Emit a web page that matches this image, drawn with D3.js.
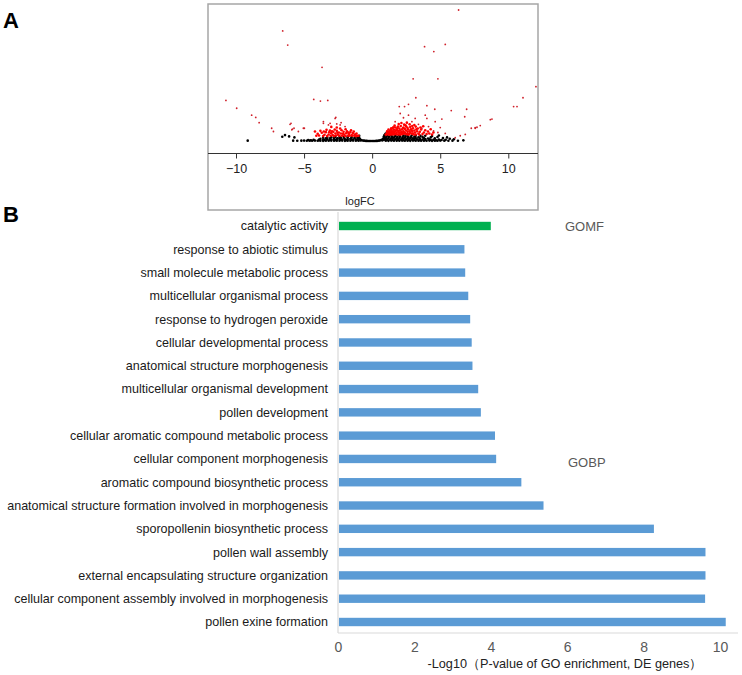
<!DOCTYPE html>
<html><head><meta charset="utf-8">
<script src="https://cdn.jsdelivr.net/npm/d3@7"></script>
<style>body{margin:0;background:#fff}svg{display:block;font-family:"Liberation Sans",Arial,sans-serif}</style>
</head><body><svg id="c" width="742" height="675"></svg>
<script>
// ---------- Panel A: volcano plot data (logFC, -log10 P) ----------
const volcanoXTicks = [-10, -5, 0, 5, 10];
const volcanoBlack = [
 [-0.9,0.6],[-0.8,0.3],[-0.7,0.15],[-0.6,0.1],[-0.5,0.05],[-0.4,0.03],[-0.3,0.02],[-0.2,0.01],[-0.1,0.01],[0,0.01],[0.1,0.01],[0.2,0.02],[0.3,0.03],[0.4,0.05],[0.5,0.1],[0.6,0.2],[0.7,0.4],[0.8,0.7],[0.9,1.1],[0.85,0.4],[0.75,0.15],[0.95,0.5],[-0.95,1.0],[-0.85,0.15],
 [0.9,1.6],[0.95,2.0],[0.85,1.3],[1.0,2.3],[0.92,1.8],[-1.0,1.3],[-0.95,1.6],
 [1.0,0.1],[1.2,0.05],[1.4,0.12],[1.6,0.08],[1.8,0.1],[2.0,0.06],[2.2,0.12],[2.4,0.08],[2.6,0.1],[2.8,0.05],[3.0,0.12],[3.2,0.08],[3.4,0.1],[3.6,0.06],[3.8,0.1],[4.0,0.08],[4.2,0.12],[4.4,0.05],[4.6,0.1],[4.8,0.08],[5.0,0.12],[5.3,0.1],[5.6,0.06],[5.9,0.1],[6.3,0.08],[6.7,0.2],
 [1.1,0.3],[1.5,0.3],[1.9,0.32],[2.3,0.28],[2.7,0.3],[3.1,0.32],[3.5,0.28],[3.9,0.3],[4.3,0.3],[4.7,0.25],[5.1,0.3],
 [0.95,0.5],[1.1,0.55],[1.3,0.45],[1.5,0.6],[1.7,0.5],[1.9,0.55],[2.1,0.45],[2.3,0.6],[2.5,0.5],[2.7,0.55],[2.9,0.45],[3.1,0.6],[3.3,0.5],[3.5,0.55],[3.7,0.45],[3.9,0.6],[4.2,0.5],[4.5,0.4],[4.9,0.45],[5.4,0.35],
 [1.0,0.9],[1.2,0.95],[1.4,0.85],[1.6,1.0],[1.8,0.9],[2.0,0.95],[2.2,0.85],[2.4,1.0],[2.6,0.9],[2.8,0.95],[3.0,0.85],[3.2,0.9],[3.5,0.8],[3.8,0.9],[4.1,0.75],[4.6,0.8],
 [1.05,1.3],[1.25,1.35],[1.45,1.25],[1.65,1.4],[1.85,1.3],[2.05,1.35],[2.25,1.25],[2.45,1.4],[2.65,1.3],[2.85,1.2],[3.1,1.3],[3.4,1.15],[3.7,1.25],[4.3,1.1],
 [1.1,1.7],[1.4,1.75],[1.7,1.65],[2.0,1.75],[2.3,1.7],[2.6,1.65],[2.9,1.7],[3.2,1.6],[3.55,1.55],
 [3.9,1.6],[4.4,1.5],[4.8,1.2],[5.2,0.9],[5.7,0.7],[6.0,0.5],[5.5,1.1],[4.9,1.7],
 [-1.0,0.1],[-1.2,0.06],[-1.4,0.12],[-1.6,0.08],[-1.8,0.1],[-2.0,0.05],[-2.2,0.12],[-2.4,0.08],[-2.6,0.1],[-2.8,0.06],[-3.0,0.12],[-3.2,0.08],[-3.4,0.1],[-3.6,0.05],[-3.8,0.1],[-4.0,0.08],[-4.2,0.12],[-4.4,0.06],[-4.6,0.1],[-4.8,0.08],[-5.0,0.12],[-5.2,0.1],[-5.5,0.06],[-5.8,0.1],
 [-1.1,0.3],[-1.5,0.32],[-1.9,0.28],[-2.3,0.3],[-2.7,0.32],[-3.1,0.28],[-3.5,0.3],[-3.9,0.25],[-4.5,0.2],
 [-1.0,0.5],[-1.2,0.55],[-1.4,0.45],[-1.6,0.6],[-1.8,0.5],[-2.0,0.55],[-2.2,0.45],[-2.4,0.6],[-2.6,0.5],[-2.8,0.55],[-3.0,0.45],[-3.3,0.5],[-3.6,0.4],[-3.9,0.45],[-4.3,0.35],[-4.7,0.3],
 [-1.05,0.9],[-1.3,0.95],[-1.55,0.85],[-1.8,1.0],[-2.05,0.9],[-2.3,0.95],[-2.55,0.85],[-2.8,0.9],[-3.1,0.8],[-3.4,0.85],[-3.8,0.7],
 [-1.2,1.3],[-1.5,1.25],[-1.8,1.35],[-2.1,1.3],[-2.4,1.2],[-2.7,1.25],[-3.0,1.15],[-3.3,1.1],[-3.6,1.0],
 [-9.14,0.1],[-6.4,1.8],[-6.6,1.3],[-5.71,1.1],[-6.1,1.4]
];
const volcanoRed = [
 [1.0,2.0],[1.05,2.0],[1.1,2.1],[1.1,2.4],[1.15,2.2],[1.2,2.1],[1.2,2.8],[1.25,2.0],[1.3,2.4],[1.3,3.1],[1.35,2.1],[1.4,2.7],[1.4,3.4],[1.45,2.0],[1.5,2.2],[1.5,3.0],[1.5,3.8],[1.55,2.6],[1.6,2.0],[1.6,3.4],[1.65,2.3],[1.7,2.9],[1.7,4.1],[1.75,2.1],[1.8,2.5],[1.8,3.6],[1.85,2.0],[1.9,3.1],[1.9,4.4],[1.95,2.7],[2.0,2.0],[2.0,2.3],[2.0,3.8],[2.05,3.3],[2.1,2.0],[2.1,4.6],[2.15,2.8],[2.2,3.5],[2.2,2.1],[2.25,2.4],[2.3,4.1],[2.3,3.0],[2.35,2.2],[2.4,2.6],[2.4,3.7],[2.45,4.8],[2.5,2.1],[2.5,3.2],[2.55,2.1],[2.6,2.8],[2.6,4.0],[2.65,3.5],[2.7,2.2],[2.7,2.0],[2.75,3.0],[2.8,4.3],[2.8,2.5],[2.85,3.6],[2.9,2.2],[2.95,2.9],[3.0,3.9],[3.0,2.3],[3.05,2.0],[3.1,3.2],[3.15,2.6],[3.2,4.4],[3.2,2.0],[3.3,3.0],[3.35,3.8],[3.4,2.3],[3.45,2.0],[3.5,2.8],[3.6,3.5],[3.7,2.1],[3.8,2.6],[3.9,3.3],[4.0,2.1],[4.1,2.9],[4.2,2.3],[4.3,3.6],[4.4,2.0],[4.5,2.6],[1.3,2.0],[1.6,2.6],[1.75,3.2],[2.05,2.6],[2.25,3.9],[2.5,4.4],[2.65,2.0],[2.9,3.3],[1.45,2.5],[1.85,4.0],[2.35,5.0],[1.95,5.2],[2.15,5.5],[1.65,4.7],[2.75,5.1],[2.55,5.6],[3.1,4.9],[1.55,4.2],[1.4,3.9],[2.95,4.6],[3.25,3.6],[3.55,4.1],[3.75,4.5],[1.1,3.0],[1.2,3.5],
 [-1.0,1.6],[-1.1,1.6],[-1.2,1.5],[-1.25,2.0],[-1.3,1.7],[-1.4,2.4],[-1.45,1.6],[-1.5,1.8],[-1.6,2.7],[-1.65,1.6],[-1.7,2.1],[-1.8,1.6],[-1.85,3.0],[-1.9,2.4],[-2.0,1.5],[-2.05,2.0],[-2.1,2.8],[-2.2,1.6],[-2.25,3.3],[-2.3,2.3],[-2.4,1.6],[-2.45,2.6],[-2.5,1.9],[-2.6,3.1],[-2.65,1.7],[-2.7,2.3],[-2.8,1.5],[-2.85,2.8],[-2.9,1.8],[-3.0,2.4],[-3.05,1.6],[-3.1,3.2],[-3.2,2.0],[-3.3,1.5],[-3.4,2.7],[-3.5,1.9],[-3.6,1.5],[-3.7,2.5],[-3.8,3.1],[-3.9,1.7],[-4.0,2.2],[-4.1,1.6],[-4.2,2.9],[-1.35,2.9],[-1.55,3.3],[-1.75,2.6],[-1.95,3.6],[-2.15,2.2],[-2.35,3.8],[-2.55,2.5],[-2.75,3.5],[-2.95,3.0],[-3.15,2.7],[-3.35,3.4],[-3.55,2.9],[-1.15,2.3],[-2.6,4.1],[-3.0,4.3]
];
const volcanoOutliers = [
 [6.35,40],[-6.57,33.6],[-6.2,29.3],[3.85,28.8],[5.37,29.5],[4.53,27.3],[-3.68,22.5],[3.01,19.0],[4.83,19.0],[12.03,16.6],[11.08,13.2],[-10.74,12.4],[-4.29,12.7],[-3.8,12.2],[-3.26,12.4],[3.21,13.2],[-9.95,10.0],[10.39,10.5],[10.64,10.5],[5.81,9.3],[6.94,9.7],[6.8,7.4],[4.6,9.7],
 [2.67,11.2],[1.99,10.5],[2.38,10.5],[4.02,10.8],[2.06,8.4],[2.67,7.9],[3.16,6.9],[3.9,7.9],[4.02,6.9],[4.63,5.9],[5.12,6.7],[5.0,4.1],[4.51,3.05],[4.83,2.6],[5.37,2.3],[7.57,4.1],[7.28,3.9],[6.84,2.0],[6.47,1.6],[6.1,1.0],[3.4,5.1],[3.65,3.9],[4.14,4.4],[2.3,7.1],[1.69,5.9],[2.92,5.9],
 [8.8,6.7],[8.68,6.5],[7.94,4.7],[7.7,4.2],[7.57,3.9],
 [-6.03,5.1],[-5.74,3.9],[-5.05,3.9],[-3.58,5.9],[-2.72,6.9],[-3.09,5.4],[-2.35,4.9],[-1.99,4.4],[-5.9,3.4],[-5.42,2.9],
 [-8.85,7.9],[-8.55,7.2],[-8.3,5.6],[-7.38,3.9],[-7.25,2.9],[-5.96,5.4],[-5.86,3.6],[-4.98,3.9],[-2.67,7.2],[-3.58,5.4],[-3.21,4.9],[-2.6,5.2],[-2.28,5.6]
];

// ---------- Panel B: GO enrichment bars ----------
const goTerms = [
 "catalytic activity",
 "response to abiotic stimulus",
 "small molecule metabolic process",
 "multicellular organismal process",
 "response to hydrogen peroxide",
 "cellular developmental process",
 "anatomical structure morphogenesis",
 "multicellular organismal development",
 "pollen development",
 "cellular aromatic compound metabolic process",
 "cellular component morphogenesis",
 "aromatic compound biosynthetic process",
 "anatomical structure formation involved in morphogenesis",
 "sporopollenin biosynthetic process",
 "pollen wall assembly",
 "external encapsulating structure organization",
 "cellular component assembly involved in morphogenesis",
 "pollen exine formation"
];
const goValues = [4.0,3.31,3.33,3.41,3.46,3.50,3.52,3.67,3.74,4.11,4.14,4.80,5.38,8.27,9.62,9.62,9.61,10.15];
const goOntology = ["GOMF","GOBP","GOBP","GOBP","GOBP","GOBP","GOBP","GOBP","GOBP","GOBP","GOBP","GOBP","GOBP","GOBP","GOBP","GOBP","GOBP","GOBP"];
const goXTicks = [0,2,4,6,8,10];
const ontologyLabels = ["GOMF","GOBP"];
const ontologyColors = {GOMF:"#00b050", GOBP:"#5b9bd5"};

const svg = d3.select("#c");

// ===== Panel A =====
const A = svg.append("g");
A.append("rect").attr("x",208).attr("y",4).attr("width",330).attr("height",206)
 .attr("fill","none").attr("stroke","#a6a6a6").attr("stroke-width",1.5);
const vx = d3.scaleLinear().domain([-10,10]).range([236,508.3]);
const vy = d3.scaleLinear().domain([0,40]).range([141,10]);
const vPlot = A.append("g");
vPlot.selectAll("circle.b").data(volcanoBlack).join("circle").attr("class","b")
 .attr("cx",d=>vx(d[0])).attr("cy",d=>vy(d[1])).attr("r",1.3).attr("fill","#000");
vPlot.selectAll("circle.r").data(volcanoRed).join("circle").attr("class","r")
 .attr("cx",d=>vx(d[0])).attr("cy",d=>vy(d[1])).attr("r",1.3).attr("fill","#ff0000");
vPlot.selectAll("circle.o").data(volcanoOutliers).join("circle").attr("class","o")
 .attr("cx",d=>vx(d[0])).attr("cy",d=>vy(d[1])).attr("r",0.9).attr("fill","#d0202a");
// x axis
A.append("line").attr("x1",208).attr("x2",538).attr("y1",153.5).attr("y2",153.5).attr("stroke","#333").attr("stroke-width",1);
const vAxis = A.append("g").attr("transform","translate(0,153.5)")
 .call(d3.axisBottom(vx).tickValues(volcanoXTicks).tickSize(5).tickFormat(d=>d<0?"\u2212"+Math.abs(d):d));
vAxis.select(".domain").remove();
vAxis.selectAll("line").attr("stroke","#333");
vAxis.selectAll("text").attr("font-size",12.5).attr("fill","#222").attr("dy","0.95em")
 .attr("font-family","'Liberation Sans',Arial,sans-serif");
A.append("text").attr("x",360).attr("y",205).attr("text-anchor","middle").attr("font-size",11).attr("fill","#222").text("logFC");

// ===== Panel B =====
const bx = d3.scaleLinear().domain([0,10]).range([338,720]);
const by = d3.scalePoint().domain(goTerms).range([226,622]);
const B = svg.append("g");
B.append("line").attr("x1",338).attr("x2",338).attr("y1",212).attr("y2",633).attr("stroke","#d9d9d9").attr("stroke-width",1.2);
B.append("line").attr("x1",338).attr("x2",738).attr("y1",633).attr("y2",633).attr("stroke","#d9d9d9").attr("stroke-width",1.2);
B.selectAll("rect.bar").data(goTerms).join("rect").attr("class","bar")
 .attr("x",bx(0)+1).attr("y",(d)=>by(d)-4.2).attr("height",8.4)
 .attr("width",(d,i)=>bx(goValues[i])-bx(0)-1)
 .attr("fill",(d,i)=>ontologyColors[goOntology[i]]);
B.selectAll("text.cat").data(goTerms).join("text").attr("class","cat")
 .attr("x",328).attr("y",d=>by(d)).attr("dy","0.35em").attr("text-anchor","end")
 .attr("font-size",12.55).attr("fill","#1a1a1a").text(d=>d);
const bAxis = B.append("g").attr("transform","translate(0,633)")
 .call(d3.axisBottom(bx).tickValues(goXTicks).tickSize(0).tickPadding(9));
bAxis.select(".domain").remove();
bAxis.selectAll("text").attr("font-size",14).attr("fill","#595959").attr("font-family","'Liberation Sans',Arial,sans-serif");
B.append("text").attr("x",565).attr("y",668).attr("text-anchor","middle").attr("font-size",12.7).attr("fill","#222")
 .text("-Log10\uFF08P-value of GO enrichment, DE genes\uFF09");
B.append("text").attr("x",565).attr("y",231).attr("font-size",13).attr("fill","#595959").text(ontologyLabels[0]);
B.append("text").attr("x",568).attr("y",467).attr("font-size",13).attr("fill","#595959").text(ontologyLabels[1]);

// panel letters
svg.append("text").attr("x",3).attr("y",28).attr("font-size",22).attr("font-weight","bold").text("A");
svg.append("text").attr("x",3).attr("y",222).attr("font-size",22).attr("font-weight","bold").text("B");
</script></body></html>
